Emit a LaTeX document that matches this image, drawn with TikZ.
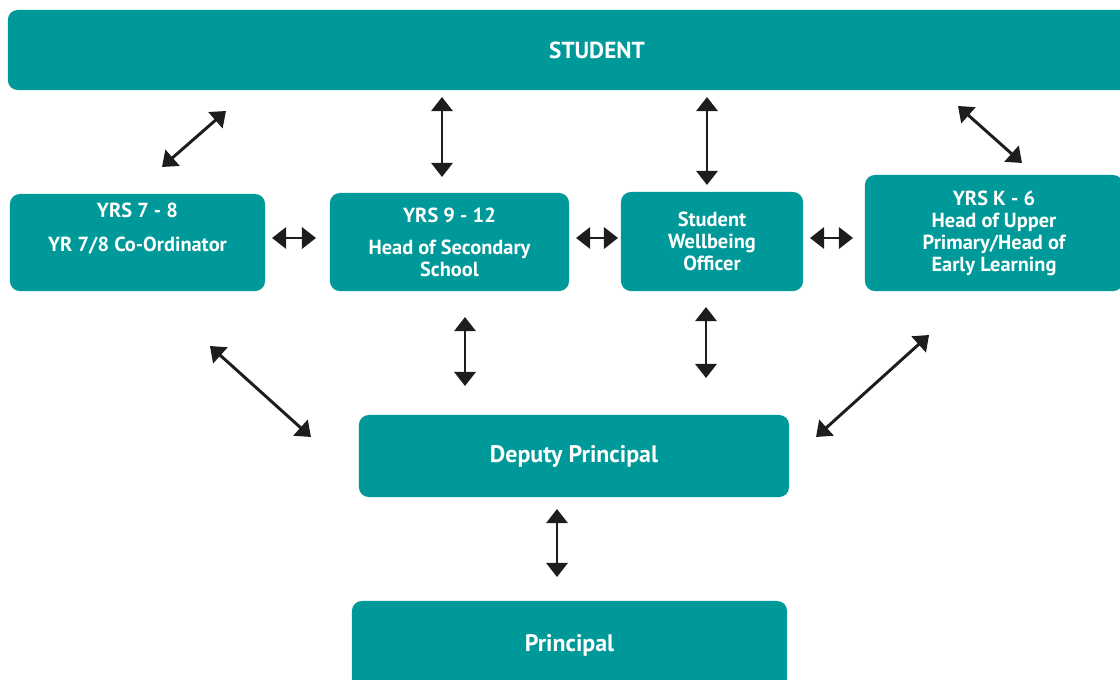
\documentclass[tikz,border=0pt]{standalone}
\usepackage{fontspec}
\setmainfont{PT Sans}
\usetikzlibrary{arrows.meta}
\definecolor{boxteal}{RGB}{0,153,153}
\definecolor{arrowgray}{RGB}{30,28,28}

\begin{document}
\begin{tikzpicture}[x=0.025cm,y=-0.025cm,inner sep=0pt,outer sep=0pt,
staffbox/.style={fill=boxteal,rounded corners=7pt,text=white,align=center,font=\fontsize{14.5}{15.6}\selectfont\bfseries},
biarrow/.style={{Triangle[width=15pt,length=10pt]}-{Triangle[width=15pt,length=10pt]},line width=2.1pt,draw=arrowgray}]

\useasboundingbox (0,0) rectangle (1120,679);
\clip (0,0) rectangle (1120,679);

% boxes
\node[staffbox,minimum width=29.45cm,minimum height=2cm,font=\fontsize{16.5}{18}\selectfont\bfseries] (student) at (597,50) {STUDENT};
\node[staffbox,minimum width=6.375cm,minimum height=2.425cm] (y78) at (137.5,242.5) {YRS 7 - 8\\[9pt]YR 7/8 Co-Ordinator\\[6pt]\mbox{}};
\node[staffbox,minimum width=5.975cm,minimum height=2.45cm] (y912) at (449.5,242) {YRS 9 - 12\\[7pt]Head of Secondary\\School};
\node[staffbox,minimum width=4.55cm,minimum height=2.475cm] (swo) at (712,241.5) {Student\\Wellbeing\\Officer};
\node[staffbox,minimum width=6.45cm,minimum height=2.9cm] (k6) at (994,233) {YRS K - 6\\Head of Upper\\Primary/Head of\\Early Learning};
\node[staffbox,minimum width=10.75cm,minimum height=2.05cm,font=\fontsize{17}{18}\selectfont\bfseries] (dp) at (574,456) {Deputy Principal};
\node[staffbox,minimum width=10.875cm,minimum height=2.2cm,font=\fontsize{17}{18}\selectfont\bfseries] (pr) at (569.5,645) {Principal};

% links up to the student
\draw[biarrow] (y78.north) ++(24.5,-27) -- ++(64,-56);
\draw[biarrow] (y912.north) ++(-7.5,-16) -- ++(0,-80);
\draw[biarrow] (swo.north) ++(-5,-7) -- ++(0,-88);
\draw[biarrow] (k6.north) ++(28,-12) -- ++(-64,-57);

% links across the row
\draw[biarrow] (y78.east) ++(7,-4.5) -- ++(44,0);
\draw[biarrow] (y912.east) ++(7,-4) -- ++(42,0);
\draw[biarrow] (swo.east) ++(7,-3.5) -- ++(43,0);

% links down to the deputy
\draw[biarrow] (dp.west) ++(-48,-19) -- ++(-101,-91);
\draw[biarrow] (y912.south) ++(15.5,26) -- ++(0,69);
\draw[biarrow] (swo.south) ++(-6,16) -- ++(0,71);
\draw[biarrow] (dp.east) ++(27,-19) -- ++(113,-102);

\draw[biarrow] (dp.south) ++(-17,12) -- ++(0,68);
\end{tikzpicture}
\end{document}
